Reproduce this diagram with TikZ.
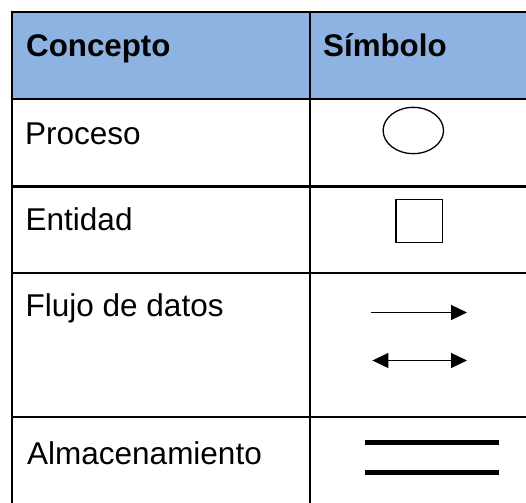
\documentclass[tikz,border=0pt]{standalone}
\usepackage{fontspec}
\setmainfont{Liberation Sans}
\usetikzlibrary{shapes.geometric,arrows.meta}
\definecolor{headblue}{HTML}{8DB3E2}
\tikzset{
  grid/.style={line width=2.2pt, draw=black},
  headtxt/.style={anchor=base west, inner sep=0pt, font=\fontsize{31.3}{37}\selectfont\bfseries},
  bodytxt/.style={anchor=base west, inner sep=0pt, font=\fontsize{31.5}{37}\selectfont},
  flow/.style={line width=1.3pt, draw=black},
  store/.style={line width=5pt, draw=black},
}
\begin{document}
\begin{tikzpicture}[x=1pt,y=-1pt]
\useasboundingbox (0,0) rectangle (526,502);
\begin{scope}
\clip (0,0) rectangle (526,502);
% header fill
\fill[headblue] (12,12) rectangle (530,99);
% grid lines
\draw[grid] (12,12) -- (530,12);
\draw[grid] (12,11) -- (12,510);
\draw[grid] (309.6,11) -- (309.6,510);
\draw[grid] (11,99) -- (530,99);
\draw[grid] (11,186.5) -- (530,186.5);
\draw[grid] (11,273) -- (530,273);
\draw[grid] (11,417) -- (530,417);
\end{scope}
% texts
\node[headtxt] (hc) at (26,56.7) {Concepto};
\node[headtxt] (hs) at (323,56.5) {Símbolo};
\node[bodytxt] (proc) at (25,144.8) {Proceso};
\node[bodytxt] (ent) at (25.5,230.7) {Entidad};
\node[bodytxt] (flu) at (25.5,316.8) {Flujo de datos};
\node[bodytxt] (alm) at (27,464.3) {Almacenamiento};
% symbols
\node[draw, ellipse, line width=1.3pt, minimum width=60.4pt, minimum height=46.3pt, inner sep=0pt] (ell) at (413.3,130.5) {};
\node[draw, rectangle, line width=1.5pt, minimum width=46.8pt, minimum height=42.7pt, inner sep=0pt] (sq) at (419.2,220.9) {};
\coordinate (a1s) at (370.7,312.5);
\coordinate (a1e) at (467,312.5);
\coordinate (a2s) at (372.4,360.5);
\coordinate (a2e) at (467,360.5);
\draw[flow, -{Triangle[length=16pt,width=15pt]}] (a1s) -- (a1e);
\draw[flow, {Triangle[length=16pt,width=15pt]}-{Triangle[length=16pt,width=15pt]}] (a2s) -- (a2e);
\coordinate (s1s) at (365,442.2);
\coordinate (s1e) at (499.2,442.2);
\coordinate (s2s) at (365,472);
\coordinate (s2e) at (499.2,472);
\draw[store] (s1s) -- (s1e);
\draw[store] (s2s) -- (s2e);
\end{tikzpicture}
\end{document}
